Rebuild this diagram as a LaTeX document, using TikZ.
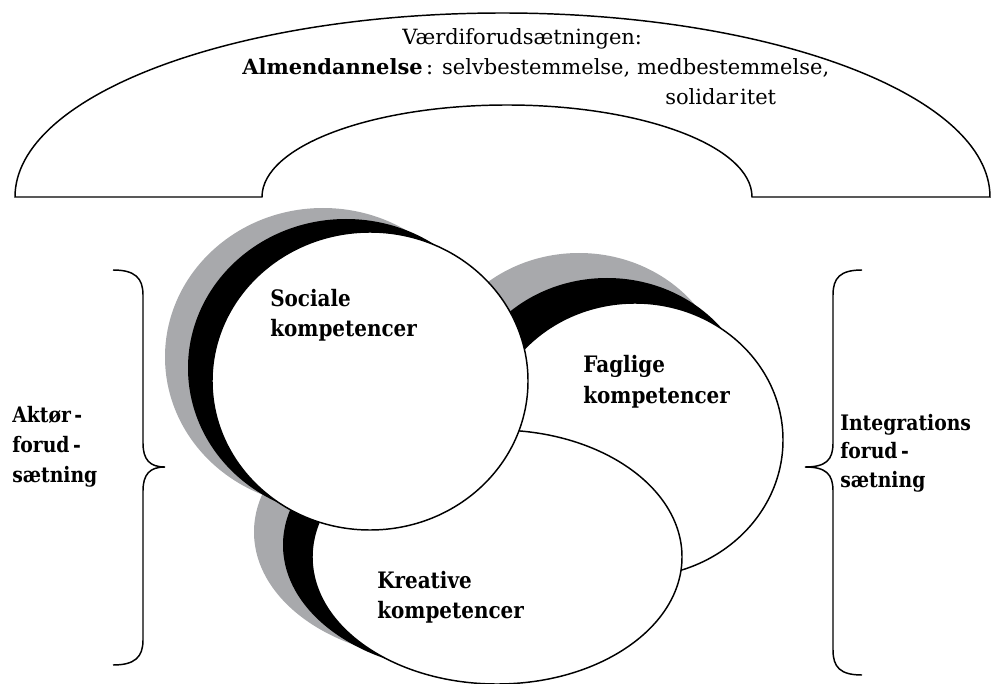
\documentclass[tikz,border=0pt]{standalone}
\usepackage{fontspec}
\setmainfont{DejaVu Serif}
\newfontfamily\labfont{DejaVu Serif Bold}[FakeStretch=0.88]
\definecolor{shadowgray}{RGB}{168,169,172}
\tikzset{
  outline/.style={draw=black, line width=1.1pt},
  archshape/.style={outline, fill=white},
  graylayer/.style={fill=shadowgray},
  blacklayer/.style={fill=black},
  bubble/.style={fill=white, draw=black, line width=1.1pt},
  bracepath/.style={draw=black, line width=1.1pt},
  toptext/.style={anchor=base west, inner sep=0pt, font=\fontsize{15.75}{18}\selectfont},
  lab/.style={anchor=base west, inner sep=0pt, font=\labfont\fontsize{17}{20}\selectfont},
  sidelab/.style={anchor=base west, inner sep=0pt, font=\labfont\fontsize{16}{19}\selectfont}
}
\begin{document}
\begin{tikzpicture}[x=0.75pt, y=-0.75pt]
\useasboundingbox (0,0) rectangle (992,684);

% Arch
\draw[archshape] (15,197) arc[start angle=180, end angle=360, x radius=487.5, y radius=184]
  -- (752,197) arc[start angle=0, end angle=-180, x radius=245, y radius=92] -- cycle;

\node[toptext] (t1) at (402,45) {Værdiforudsætningen:};
\node[toptext] (t2) at (242,75) {\textbf{Almendannelse}\,: selvbestemmelse, medbestemmelse,};
\node[toptext] (t3) at (665,105) {solidar\kern1.5pt itet};

% Faglige
\fill[graylayer] (579,390) ellipse [x radius=148, y radius=137];
\fill[blacklayer] (607,415) ellipse [x radius=148, y radius=137];
\draw[bubble] (635,440) ellipse [x radius=148, y radius=137];

% Kreative
\begin{scope}
  \clip (0,0) rectangle (500,684);
  \fill[graylayer] (439,532) ellipse [x radius=185, y radius=127];
  \fill[blacklayer] (468,545) ellipse [x radius=185, y radius=127];
\end{scope}
\draw[bubble] (497,557) ellipse [x radius=185, y radius=127];

% Sociale
\fill[graylayer] (323,357) ellipse [x radius=158, y radius=149];
\fill[blacklayer] (346,368) ellipse [x radius=158, y radius=149];
\draw[bubble] (370,381) ellipse [x radius=158, y radius=149];

% Labels in bubbles
\node[lab] (s1) at (270,306) {Sociale};
\node[lab] (s2) at (270,336) {kompetencer};
\node[lab] (f1) at (583,372) {Faglige};
\node[lab] (f2) at (583,403) {kompetencer};
\node[lab] (k1) at (377,588) {Kreative};
\node[lab] (k2) at (377,618) {kompetencer};

% Braces
\draw[bracepath] (113,270) .. controls (135,270) and (143,278) .. (143,295) -- (143,443)
  .. controls (143,460) and (150,467) .. (165,467)
  .. controls (150,467) and (143,474) .. (143,491) -- (143,640)
  .. controls (143,657) and (135,665) .. (113,665);
\draw[bracepath] (862,270) .. controls (840,270) and (833,278) .. (833,295) -- (833,443)
  .. controls (833,460) and (826,467) .. (805,467)
  .. controls (826,467) and (833,474) .. (833,491) -- (833,650)
  .. controls (833,667) and (840,675) .. (862,675);

% Side labels
\node[sidelab] (a1) at (12,422) {Aktør\,-};
\node[sidelab] (a2) at (12,452) {forud\,-};
\node[sidelab] (a3) at (12,482) {sætning};
\node[sidelab] (i1) at (840,430) {Integrations};
\node[sidelab] (i2) at (840,458) {forud\,-};
\node[sidelab] (i3) at (840,487) {sætning};
\end{tikzpicture}
\end{document}
